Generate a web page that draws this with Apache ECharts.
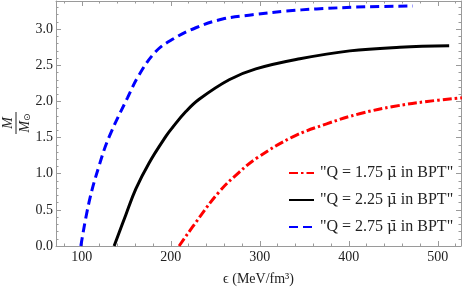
<!DOCTYPE html>
<html>
<head>
<meta charset="utf-8">
<script src="https://cdn.jsdelivr.net/npm/echarts@6/dist/echarts.min.js"></script>
<style>html,body{margin:0;padding:0;background:#fff;}#c{width:463px;height:291px;}</style>
</head>
<body>
<div id="c"></div>
<script>
// Q = 1.75 mu in BPT (red, dash-dot)
const seriesQ175 = [[209.3,0],[231.8,0.39],[254.3,0.75],[276.7,1.02],[297,1.22],[337,1.51],[375,1.69],[412,1.83],[450,1.93],[488,2.0],[527,2.05]];
// Q = 2.25 mu in BPT (black, solid)
const seriesQ225 = [[136.3,0],[149.4,0.43],[160.7,0.79],[175.6,1.15],[194.6,1.52],[201.9,1.64],[216.9,1.86],[231.8,2.03],[265.5,2.30],[295.5,2.45],[345,2.59],[401,2.70],[457.3,2.75],[512.7,2.77]];
// Q = 2.75 mu in BPT (blue, dashed)
const seriesQ275 = [[98.9,0],[108.2,0.61],[119.4,1.11],[130.7,1.51],[151.3,2.05],[164.4,2.37],[183.1,2.69],[201.9,2.86],[228.1,3.02],[258.1,3.14],[291.8,3.20],[330,3.25],[363.7,3.28],[420,3.31],[472,3.32]];
const seriesNames = ['"Q = 1.75 \u03BC\u0304 in BPT"', '"Q = 2.25 \u03BC\u0304 in BPT"', '"Q = 2.75 \u03BC\u0304 in BPT"'];

const xTicks = [100, 200, 300, 400, 500];
const xMinorTicks = [80,120,140,160,180,220,240,260,280,320,340,360,380,420,440,460,480,520];
const yTicks = [0, 0.5, 1.0, 1.5, 2.0, 2.5, 3.0];
const yTickLabels = ['0.0','0.5','1.0','1.5','2.0','2.5','3.0'];
const yMinorTicks = [0.1,0.2,0.3,0.4,0.6,0.7,0.8,0.9,1.1,1.2,1.3,1.4,1.6,1.7,1.8,1.9,2.1,2.2,2.3,2.4,2.6,2.7,2.8,2.9,3.1,3.2,3.3];
const xMin = 71, xMax = 526, yMin = 0, yMax = 3.39;

const FONT = '"Liberation Serif", "DejaVu Serif", serif';
const FRAME = '#9a9a9a';
const TXT = '#222';

function xAxisDef(pos, ticks, len, showLine, showLabels) {
  return {
    type: 'value', position: pos, min: xMin, max: xMax,
    axisLine: { show: showLine, onZero: false, lineStyle: { color: FRAME, width: 1 } },
    axisTick: { show: true, inside: true, length: len, customValues: ticks, lineStyle: { color: FRAME, width: 1 } },
    axisLabel: showLabels ? { show: true, customValues: ticks, margin: 4, fontFamily: FONT, fontSize: 14, color: TXT } : { show: false },
    splitLine: { show: false }
  };
}
function yAxisDef(pos, ticks, len, showLine, showLabels) {
  return {
    type: 'value', position: pos, min: yMin, max: yMax,
    axisLine: { show: showLine, onZero: false, lineStyle: { color: FRAME, width: 1 } },
    axisTick: { show: true, inside: true, length: len, customValues: ticks, lineStyle: { color: FRAME, width: 1 } },
    axisLabel: showLabels ? { show: true, customValues: ticks, margin: 3, fontFamily: FONT, fontSize: 14, color: TXT,
      formatter: function (v) { const i = yTicks.indexOf(v); return i >= 0 ? yTickLabels[i] : ''; } } : { show: false },
    splitLine: { show: false }
  };
}

const xa0 = xAxisDef('bottom', xTicks, 5, true, true);
xa0.name = '\u03F5 (MeV/fm\u00B3)';
xa0.nameLocation = 'middle';
xa0.nameGap = 26;
xa0.nameTextStyle = { fontFamily: FONT, fontSize: 14, color: TXT };

const chart = echarts.init(document.getElementById('c'), null, { renderer: 'canvas' });
chart.setOption({
  animation: false,
  backgroundColor: '#fff',
  grid: { left: 56, right: 2, top: 1, bottom: 39, containLabel: false },
  xAxis: [
    xa0,
    xAxisDef('bottom', xMinorTicks, 2.5, false, false),
    xAxisDef('top', xTicks, 5, true, false),
    xAxisDef('top', xMinorTicks, 2.5, false, false)
  ],
  yAxis: [
    yAxisDef('left', yTicks, 5, true, true),
    yAxisDef('left', yMinorTicks, 2.5, false, false),
    yAxisDef('right', yTicks, 5, true, false),
    yAxisDef('right', yMinorTicks, 2.5, false, false)
  ],
  legend: {
    orient: 'vertical', left: 283, top: 160,
    itemWidth: 25, itemHeight: 14, itemGap: 11,
    itemStyle: { color: 'rgba(0,0,0,0)', borderWidth: 0, opacity: 0 },
    textStyle: { fontFamily: FONT, fontSize: 16, color: TXT, padding: [0, 0, 0, 1],
      rich: {
        a: { fontFamily: FONT, fontSize: 16, color: TXT },
        mu: { fontFamily: '"DejaVu Serif"', fontSize: 15, color: TXT }
      }
    },
    formatter: function (name) {
      const parts = name.split('\u03BC\u0304');
      return '{a|' + parts[0] + '}{mu|\u03BC\u0304}{a|' + parts[1] + '}';
    },
    lineStyle: { width: 2 },
    data: seriesNames
  },
  series: [
    { name: seriesNames[0], type: 'line', data: seriesQ175, smooth: 0.4, symbol: 'none', showSymbol: false,
      lineStyle: { color: '#ff0000', width: 3, type: [9, 3, 2.5, 3] }, itemStyle: { color: '#ff0000' } },
    { name: seriesNames[1], type: 'line', data: seriesQ225, smooth: 0.4, symbol: 'none', showSymbol: false,
      lineStyle: { color: '#000000', width: 3, type: 'solid' }, itemStyle: { color: '#000000' } },
    { name: seriesNames[2], type: 'line', data: seriesQ275, smooth: 0.4, symbol: 'none', showSymbol: false,
      lineStyle: { color: '#0000ff', width: 3, type: [9, 5] }, itemStyle: { color: '#0000ff' } }
  ],
  graphic: [{
    type: 'group', x: 16, y: 123, rotation: Math.PI / 2,
    children: [
      { type: 'text', x: 0, y: -8, style: { text: 'M', font: 'italic 14px ' + FONT, align: 'center', verticalAlign: 'middle', fill: TXT } },
      { type: 'line', shape: { x1: -11, y1: 0, x2: 11, y2: 0 }, style: { stroke: TXT, lineWidth: 1 } },
      { type: 'text', x: 0, y: 9, style: {
        text: '{m|M}{s|\u2299}', align: 'center', verticalAlign: 'middle', fill: TXT,
        rich: { m: { fontFamily: FONT, fontStyle: 'italic', fontSize: 14, fill: TXT }, s: { fontFamily: 'DejaVu Sans', fontSize: 9, fill: TXT, verticalAlign: 'bottom', padding: [5, 0, 0, 0] } }
      } }
    ]
  }]
});
</script>
</body>
</html>
